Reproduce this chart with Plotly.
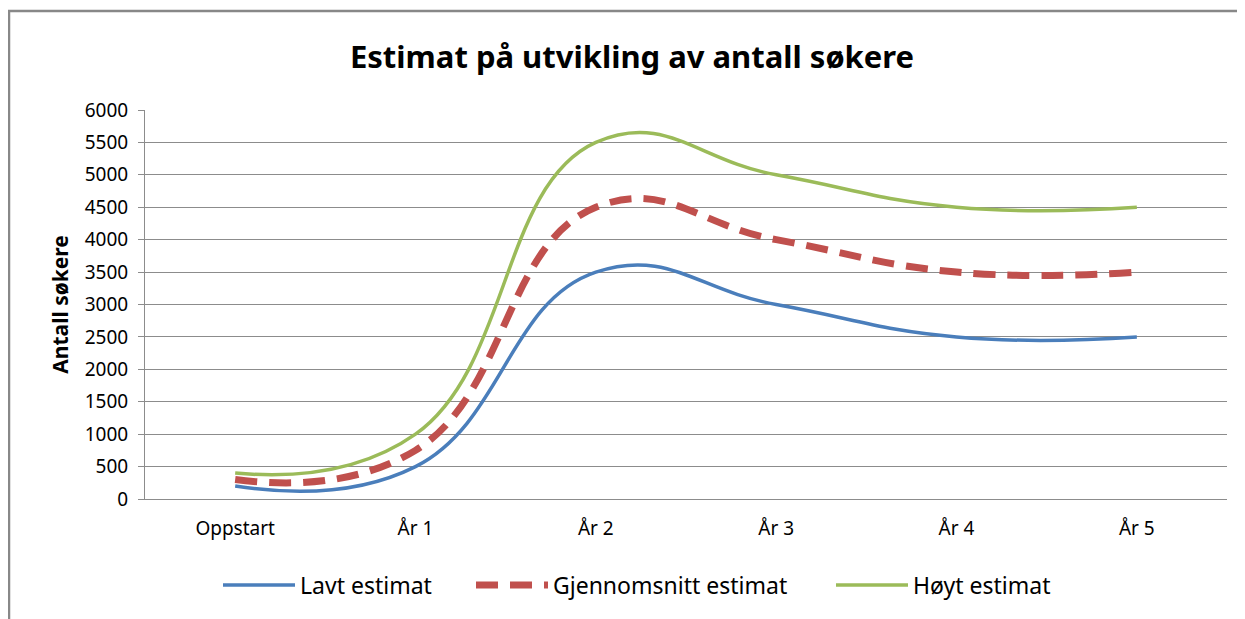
import plotly.graph_objects as go

categories = ["Oppstart", "År 1", "År 2", "År 3", "År 4", "År 5"]
lavt = [200, 500, 3500, 3000, 2500, 2500]
gjennomsnitt = [300, 750, 4500, 4000, 3500, 3500]
hoyt = [400, 1000, 5500, 5000, 4500, 4500]
y_ticks = list(range(0, 6001, 500))

FONT = "Noto Sans, Open Sans, DejaVu Sans, sans-serif"
GRID = "#8c8c8c"

# page offset of 8px (body margin) -> figure coords = page coords - 8
W, H = 1237, 611
PL, PR, PT, PB = 145 - 8, 1227 - 8, 110 - 8, 499 - 8
PW, PH = PR - PL, PB - PT

fig = go.Figure()
fig.add_trace(go.Scatter(x=categories, y=lavt, name="Lavt estimat", mode="lines", legend="legend",
                         line=dict(color="#4A7EBB", width=3.5, shape="spline", smoothing=1.3)))
fig.add_trace(go.Scatter(x=categories, y=gjennomsnitt, name="Gjennomsnitt estimat", mode="lines",
                         legend="legend2",
                         line=dict(color="#C0504D", width=7, shape="spline", smoothing=1.3, dash="22px,12px")))
fig.add_trace(go.Scatter(x=categories, y=hoyt, name="Høyt estimat", mode="lines", legend="legend3",
                         line=dict(color="#9BBB59", width=3.5, shape="spline", smoothing=1.3)))


def leg(page_x):
    return dict(orientation="h", x=(page_x - 8 - 4 - PL) / PW, xanchor="left",
                y=(PB - (585 - 8)) / PH, yanchor="middle", font=dict(size=23),
                itemwidth=72, bgcolor="rgba(0,0,0,0)")


fig.update_layout(
    width=W, height=H, autosize=False,
    margin=dict(l=PL, r=W - PR, t=PT, b=H - PB, autoexpand=False),
    paper_bgcolor="white", plot_bgcolor="white",
    font=dict(family=FONT, size=19, color="#000000"),
    title=dict(text="<b>Estimat på utvikling av antall søkere</b>", x=(632 - 8) / W, xanchor="center",
               y=1 - (57 - 8) / H, yanchor="middle", yref="container",
               font=dict(family=FONT, size=31, color="#000000")),
    xaxis=dict(type="category", range=[-0.5, 5.5], showgrid=False, showline=True,
               linecolor=GRID, linewidth=1, ticks="", tickfont=dict(size=19),
               ticklabelstandoff=12, zeroline=False),
    yaxis=dict(range=[0, 6000], tickvals=y_ticks, showgrid=True, gridcolor=GRID, gridwidth=1,
               showline=True, linecolor=GRID, linewidth=1, ticks="outside", ticklen=6,
               tickcolor=GRID, zeroline=False, tickfont=dict(size=19), ticklabelstandoff=6,
               title=dict(text="<b>Antall søkere</b>", font=dict(size=21), standoff=10)),
    legend=leg(222),
    legend2=leg(475),
    legend3=leg(835),
    showlegend=True,
    shapes=[dict(type="rect", xref="paper", yref="paper",
                 x0=(1 - PL) / PW, x1=1.2, y0=-1.0, y1=(PB - 3) / PH,
                 line=dict(color="#888888", width=2.5), fillcolor="rgba(0,0,0,0)", layer="below")],
)

fig.write_html("out.html")
